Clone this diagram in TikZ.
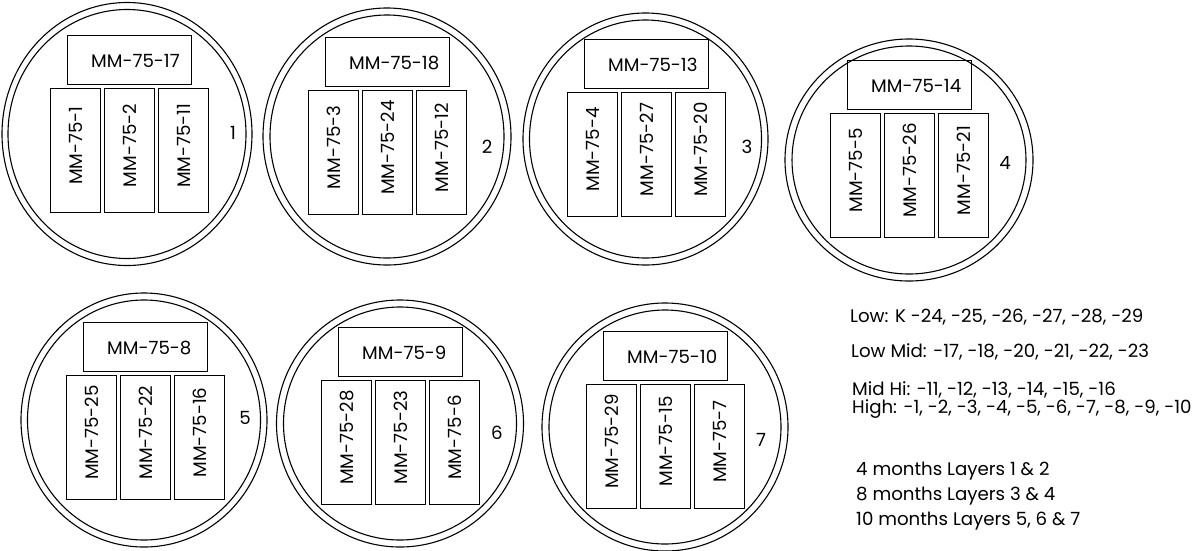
\documentclass[tikz,border=0pt]{standalone}
\usepackage{fontspec}
\setmainfont{Poppins}
\usetikzlibrary{shapes.geometric}
\newcommand\labfont{\fontsize{18.2}{20}\selectfont}
\tikzset{
  lw/.style={line width=1.1pt},
  topbox/.style={draw, lw, minimum width=124pt, minimum height=49pt, inner sep=0pt},
  vbox/.style={draw, lw, minimum width=50pt, minimum height=124pt, inner sep=0pt},
  boxtext/.style={inner sep=0pt, font=\labfont},
  vtext/.style={rotate=90, inner sep=0pt, font=\labfont},
  ring/.style={draw, ellipse, lw, inner sep=0pt},
  numtext/.style={inner sep=0pt, font=\labfont},
  legtext/.style={inner sep=0pt, anchor=base west, font=\labfont}
}
% #1 name, #2 X, #3 Y (top-left of top box), #4 top text, #5 #6 #7 vertical texts
\newcommand\podunit[7]{%
  \node[topbox, anchor=north west] (#1top) at (#2,#3) {};
  \node[boxtext, anchor=base west] (#1toptxt) at ([xshift=24pt,yshift=-32pt]#1top.north west) {#4};
  \node[vbox, anchor=north west] (#1a) at ({#2-17},{#3+53}) {};
  \node[vbox, anchor=north west] (#1b) at ({#2+37},{#3+53}) {};
  \node[vbox, anchor=north west] (#1c) at ({#2+91},{#3+53}) {};
  \node[vtext] (#1atxt) at ([yshift=5pt]#1a.center) {#5};
  \node[vtext] (#1btxt) at ([yshift=5pt]#1b.center) {#6};
  \node[vtext] (#1ctxt) at ([yshift=5pt]#1c.center) {#7};
}
\begin{document}
\begin{tikzpicture}[x=1pt, y=-1pt]
\useasboundingbox (0,0) rectangle (1201,550);

% rings
\node[ring, minimum width=250pt, minimum height=263pt] (c1o) at (127,134) {};
\node[ring, minimum width=238pt, minimum height=249pt] (c1i) at (127,134) {};
\node[ring, minimum width=248pt, minimum height=257pt] (c2o) at (387,136.5) {};
\node[ring, minimum width=234pt, minimum height=243pt] (c2i) at (387,136.5) {};
\node[ring, minimum width=245pt, minimum height=252pt] (c3o) at (645.5,139) {};
\node[ring, minimum width=232pt, minimum height=238pt] (c3i) at (645.5,139) {};
\node[ring, minimum width=248pt, minimum height=242pt] (c4o) at (909,160) {};
\node[ring, minimum width=234pt, minimum height=228pt] (c4i) at (909,160) {};
\node[ring, minimum width=246pt, minimum height=254pt] (c5o) at (144,420) {};
\node[ring, minimum width=233pt, minimum height=240pt] (c5i) at (144,420) {};
\node[ring, minimum width=247pt, minimum height=247pt] (c6o) at (400,423.5) {};
\node[ring, minimum width=233pt, minimum height=233pt] (c6i) at (400,423.5) {};
\node[ring, minimum width=246pt, minimum height=248pt] (c7o) at (665,427) {};
\node[ring, minimum width=232pt, minimum height=234pt] (c7i) at (665,427) {};

% boxes
\podunit{p1}{67}{35}{MM-75-17}{MM-75-1}{MM-75-2}{MM-75-11}
\podunit{p2}{325}{37}{MM-75-18}{MM-75-3}{MM-75-24}{MM-75-12}
\podunit{p3}{584}{39}{MM-75-13}{MM-75-4}{MM-75-27}{MM-75-20}
\podunit{p4}{847}{60}{MM-75-14}{MM-75-5}{MM-75-26}{MM-75-21}
\podunit{p5}{83}{322}{MM-75-8}{MM-75-25}{MM-75-22}{MM-75-16}
\podunit{p6}{338}{327}{MM-75-9}{MM-75-28}{MM-75-23}{MM-75-6}
\podunit{p7}{603}{331}{MM-75-10}{MM-75-29}{MM-75-15}{MM-75-7}

% layer numbers
\node[numtext] (n1) at (233,133) {1};
\node[numtext] (n2) at (487,147) {2};
\node[numtext] (n3) at (747,147) {3};
\node[numtext] (n4) at (1005,163) {4};
\node[numtext] (n5) at (245,418) {5};
\node[numtext] (n6) at (497,433) {6};
\node[numtext] (n7) at (761,440) {7};

% legend
\node[legtext] (l1) at (850,322.5) {Low: K -24, -25, -26, -27, -28, -29};
\node[legtext] (l2) at (851,357.7) {Low Mid: -17, -18, -20, -21, -22, -23};
\node[legtext] (l3) at (852,395.7) {Mid Hi: -11, -12, -13, -14, -15, -16};
\node[legtext] (l4) at (852,413.3) {High: -1, -2, -3, -4, -5, -6, -7, -8, -9, -10};
\node[legtext] (l5) at (856,475) {4 months Layers 1 \& 2};
\node[legtext] (l6) at (856,500) {8 months Layers 3 \& 4};
\node[legtext] (l7) at (856,525) {10 months Layers 5, 6 \& 7};
\end{tikzpicture}
\end{document}
